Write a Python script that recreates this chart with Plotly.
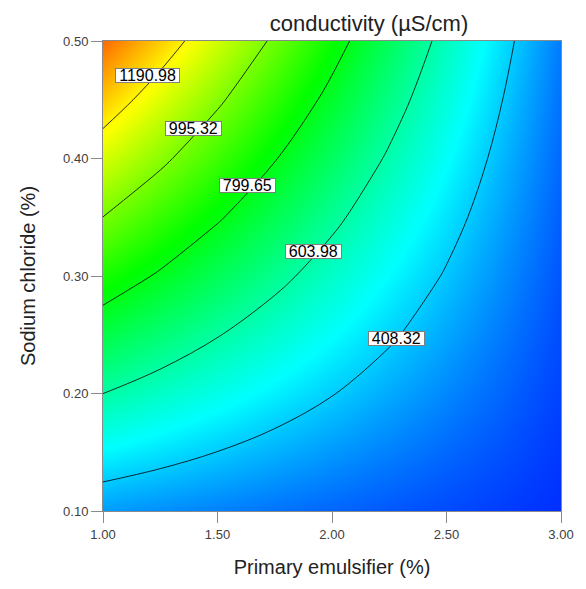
import plotly.graph_objects as go

# ---- data ----
x_emulsifier = [1.00, 1.25, 1.50, 1.75, 2.00, 2.25, 2.50, 2.75, 3.00]
y_sodium = [0.10, 0.15, 0.20, 0.25, 0.30, 0.35, 0.40, 0.45, 0.50]

# conductivity (uS/cm), one row per sodium chloride level
z_y010 = [344.0, 325.1, 306.3, 287.4, 268.5, 249.6, 230.8, 211.9, 193.0]
z_y015 = [474.1, 440.6, 407.1, 373.6, 340.1, 306.6, 273.1, 239.6, 206.1]
z_y020 = [604.2, 556.1, 508.0, 459.8, 411.7, 363.6, 315.5, 267.3, 219.2]
z_y025 = [734.3, 671.6, 608.8, 546.1, 483.3, 420.6, 357.8, 295.1, 232.3]
z_y030 = [864.4, 787.0, 709.7, 632.3, 554.9, 477.5, 400.2, 322.8, 245.4]
z_y035 = [994.5, 902.5, 810.5, 718.5, 626.5, 534.5, 442.5, 350.5, 258.5]
z_y040 = [1124.6, 1018.0, 911.4, 804.7, 698.1, 591.5, 484.9, 378.2, 271.6]
z_y045 = [1254.7, 1133.5, 1012.2, 891.0, 769.7, 648.5, 527.2, 406.0, 284.7]
z_y050 = [1384.8, 1249.0, 1113.1, 977.2, 841.3, 705.4, 569.6, 433.7, 297.8]
z_conductivity = [z_y010, z_y015, z_y020, z_y025, z_y030, z_y035, z_y040, z_y045, z_y050]

contour_levels = [408.32, 603.98, 799.65, 995.32, 1190.98]

x_tick_vals = [1.0, 1.5, 2.0, 2.5, 3.0]
x_tick_text = ["1.00", "1.50", "2.00", "2.50", "3.00"]
y_tick_vals = [0.1, 0.2, 0.3, 0.4, 0.5]
y_tick_text = ["0.10", "0.20", "0.30", "0.40", "0.50"]

# ---- label placement (layout) ----
label_x = [2.280, 1.920, 1.629, 1.396, 1.194]
label_y = [0.247, 0.321, 0.377, 0.4255, 0.471]

FONT = "Arial, Liberation Sans, sans-serif"

colorscale = [
    [0.00, "rgb(0,0,255)"],
    [0.25, "rgb(0,255,255)"],
    [0.50, "rgb(0,255,0)"],
    [0.75, "rgb(255,255,0)"],
    [1.00, "rgb(255,0,0)"],
]

step = contour_levels[1] - contour_levels[0]
fig = go.Figure(
    go.Contour(
        x=x_emulsifier,
        y=y_sodium,
        z=z_conductivity,
        zmin=130,
        zmax=1530,
        colorscale=colorscale,
        autocontour=False,
        contours=dict(
            start=contour_levels[0],
            end=contour_levels[-1] + 0.5,
            size=step,
            coloring="heatmap",
            showlabels=False,
        ),
        line=dict(color="black", width=0.8, smoothing=1.0),
        showscale=False,
        hoverinfo="skip",
    )
)

annotations = []
for lx, ly, lv in zip(label_x, label_y, contour_levels):
    txt = f"{lv:.2f}"
    annotations.append(
        dict(
            x=lx, y=ly, xref="x", yref="y", text=txt, showarrow=False,
            font=dict(family=FONT, size=16, color="black"),
            bgcolor="white", bordercolor="#7f7f7f", borderwidth=1, borderpad=0,
            width=8.6 * len(txt) + 3, height=13,
        )
    )

axis_common = dict(
    showline=True, linecolor="#8a8a8a", linewidth=1, mirror=True,
    ticks="outside", ticklen=11, tickcolor="#8a8a8a", tickwidth=1,
    showgrid=False, zeroline=False,
    tickfont=dict(family=FONT, size=13, color="#404040"),
)

fig.update_layout(
    width=586, height=589,
    margin=dict(l=103, r=13, t=41, b=78),
    paper_bgcolor="white", plot_bgcolor="white",
    title=dict(
        text="conductivity (µS/cm)", x=369 / 586, xanchor="center",
        y=1 - 23 / 589, yanchor="middle", xref="container", yref="container",
        font=dict(family=FONT, size=22, color="#222222"),
    ),
    xaxis=dict(
        range=[1, 3], tickvals=x_tick_vals, ticktext=x_tick_text,
        title=dict(text="Primary emulsifier (%)", standoff=19,
                   font=dict(family=FONT, size=20, color="#222222")),
        **axis_common,
    ),
    yaxis=dict(
        range=[0.1, 0.5], tickvals=y_tick_vals, ticktext=y_tick_text,
        title=dict(text="Sodium chloride (%)", standoff=22,
                   font=dict(family=FONT, size=20, color="#222222")),
        **axis_common,
    ),
    annotations=annotations,
    showlegend=False,
)

fig.write_html("out.html")
